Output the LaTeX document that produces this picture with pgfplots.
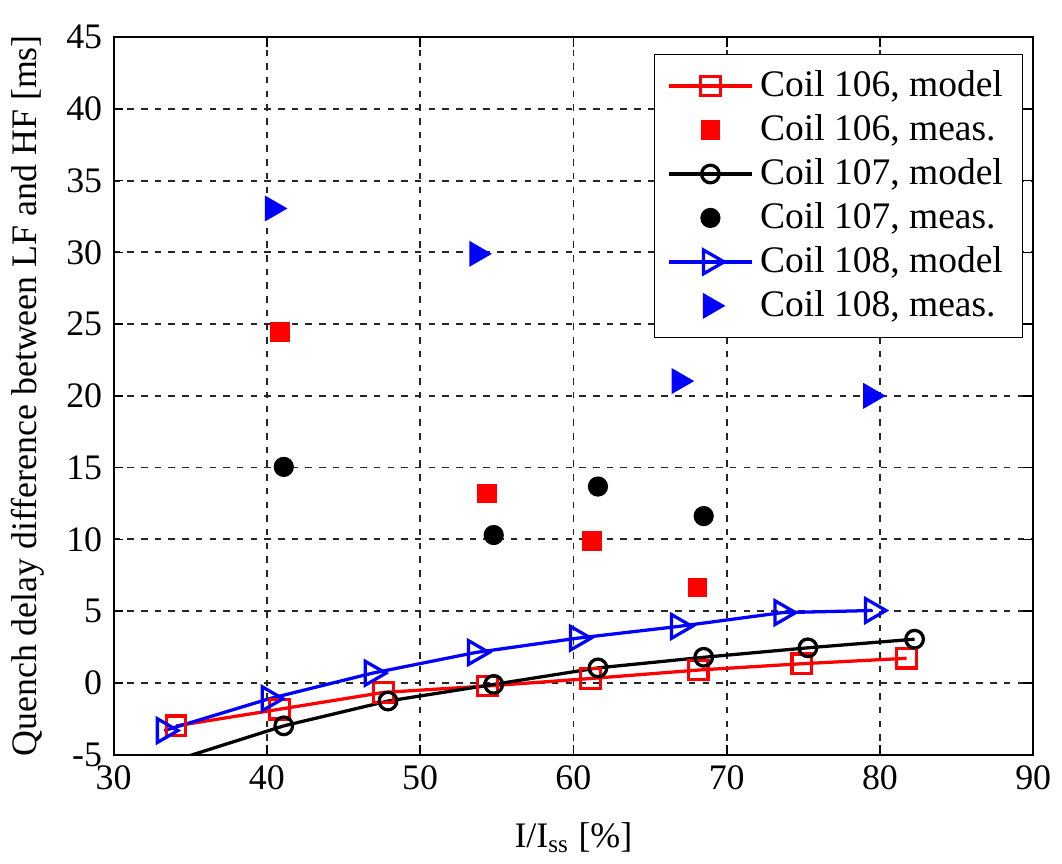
\documentclass[border=0pt]{standalone}
\usepackage{fontspec}
\setmainfont{Liberation Serif}
\usepackage{pgfplots}
\pgfplotsset{compat=1.18}

\begin{document}
\begin{tikzpicture}
\begin{axis}[
  name=main,
  scale only axis,
  width=282pt, height=220pt,
  xmin=30, xmax=90, ymin=-5, ymax=45,
  xtick={30,40,...,90}, ytick={-5,0,...,45},
  grid=major,
  major grid style={black!85, dash pattern=on 2pt off 2.2pt, line width=0.55pt},
  tick align=inside,
  major tick length=3pt,
  tick style={black, line width=0.5pt},
  axis line style={line width=0.6pt},
  /pgf/number format/assume math mode=true,
  ticklabel style={font=\fontsize{11}{13}\selectfont},
  label style={font=\fontsize{11}{13}\selectfont},
  xlabel={I/I\textsubscript{ss} [\%]},
  xlabel style={yshift=-3pt},
  ylabel={Quench delay difference between LF and HF [ms]},
  legend style={at={(0.989,0.977)}, anchor=north east, draw=black,
    font=\fontsize{11.5}{13.8}\selectfont, cells={anchor=west},
    row sep=0pt, inner xsep=4pt, inner ysep=3pt},
  legend image code/.code={\draw[mark repeat=2,mark phase=2]
    plot coordinates {(0pt,0pt) (12.75pt,0pt) (25.5pt,0pt)};},
]
% black model segment below the axis (no marker shown)
\addplot[black, line width=1pt, forget plot] coordinates {(34.0,-5.4) (41.1,-3.0)};

\addplot[red, line width=1pt, mark=square, mark size=3pt, mark options={solid}]
  coordinates {(34.07,-3.0) (40.83,-1.84) (47.6,-0.67) (54.4,-0.22) (61.12,0.30)
               (68.14,0.89) (74.9,1.33) (81.74,1.71)};
\addlegendentry{Coil 106, model}
\addplot[only marks, red, mark=square*, mark size=2.8pt, mark options={fill=red}]
  coordinates {(40.85,24.47) (54.35,13.2) (61.2,9.88) (68.1,6.64)};
\addlegendentry{Coil 106, meas.}

\addplot[black, line width=1pt, mark=o, mark size=2.7pt, mark options={solid}]
  coordinates {(41.1,-3.0) (47.9,-1.27) (54.8,-0.11) (61.6,1.04)
               (68.5,1.78) (75.3,2.44) (82.26,3.04)};
\addlegendentry{Coil 107, model}
\addplot[only marks, black, mark=*, mark size=2.9pt, mark options={fill=black}]
  coordinates {(41.1,15.05) (54.8,10.3) (61.6,13.68) (68.5,11.62)};
\addlegendentry{Coil 107, meas.}

\addplot[blue, line width=1pt, mark=triangle, mark size=4.2pt, mark options={solid, rotate=-90}]
  coordinates {(33.3,-3.33) (40.15,-1.11) (46.87,0.67) (53.6,2.11) (60.25,3.11)
               (66.85,3.93) (73.6,4.89) (79.5,5.04)};
\addlegendentry{Coil 108, model}
\addplot[only marks, blue, mark=triangle*, mark size=4.2pt, mark options={fill=blue, rotate=-90}]
  coordinates {(40.36,33.06) (53.7,29.9) (66.9,21.03) (79.4,20.0)};
\addlegendentry{Coil 108, meas.}
\end{axis}
% blank room above the plot, as in the reference
\path (main.north) ++(0,11.4pt);
\end{tikzpicture}
\end{document}
